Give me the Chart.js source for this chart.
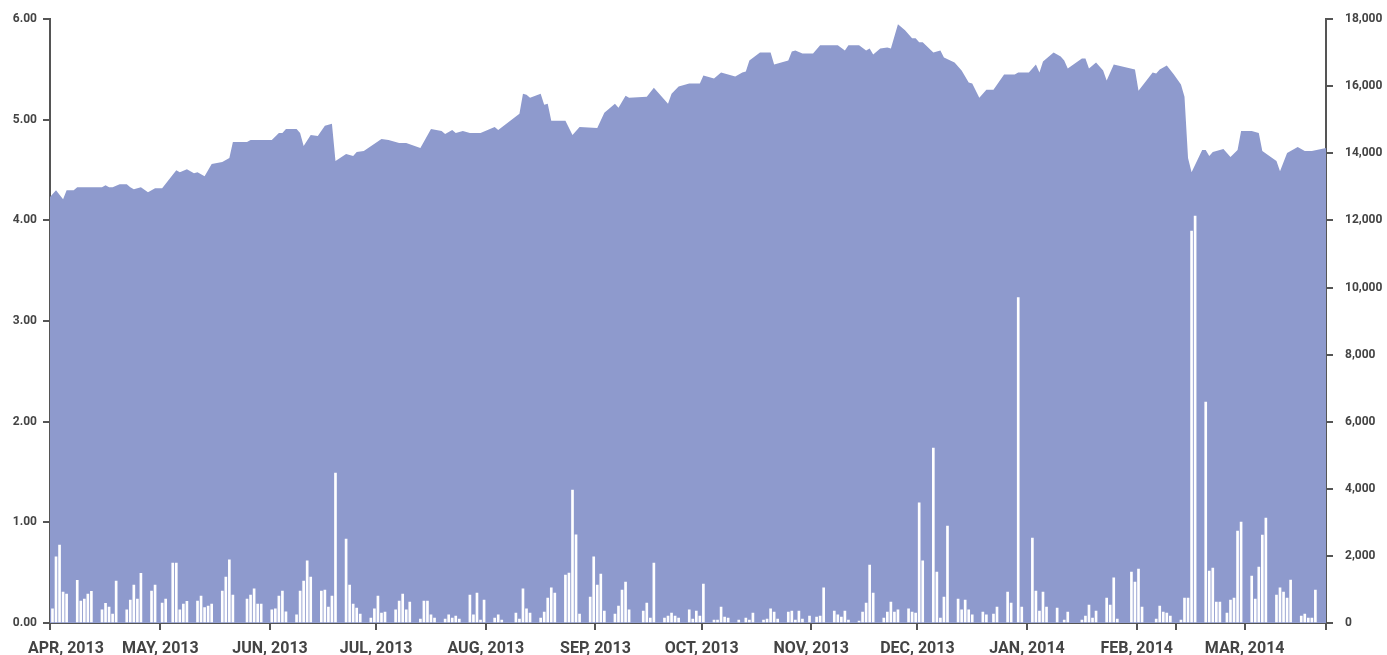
<!DOCTYPE html>
<html>
<head>
<meta charset="utf-8">
<title>Price and volume, Apr 2013 - Mar 2014</title>
<script src="https://cdn.jsdelivr.net/npm/chart.js@4.4.0/dist/chart.umd.min.js"></script>
<style>
  html, body { margin: 0; padding: 0; background: #fff; }
</style>
</head>
<body>
<canvas id="myChart" width="1387" height="655"></canvas>
<script>
// days are counted from Sun 31 Mar 2013 (day 0), one trading day = one bar
const priceDays = [
  -1, 1, 3, 4, 6, 7, 14, 15, 16, 17, 19, 21, 22, 23, 25, 27, 29, 31, 35, 36,
  38, 40, 41, 43, 45, 48, 50, 51, 55, 56, 62, 64, 65, 66, 69, 70, 71, 73, 75, 77,
  79, 80, 83, 85, 86, 88, 93, 95, 98, 100, 104, 107, 110, 111, 113, 114, 116, 118, 121, 125,
  126, 132, 133, 134, 135, 138, 139, 140, 141, 145, 147, 149, 154, 156, 159, 160, 162, 163, 168, 170,
  172, 174, 175, 177, 180, 183, 184, 187, 189, 190, 193, 195, 196, 197, 200, 203, 204, 208, 209, 210,
  212, 215, 217, 222, 224, 225, 228, 230, 231, 232, 234, 236, 237, 239, 241, 243, 244, 245, 246, 249,
  251, 252, 255, 257, 259, 260, 262, 264, 266, 269, 272, 273, 276, 278, 279, 280, 283, 285, 286, 287,
  291, 292, 293, 295, 297, 298, 300, 306, 307, 311, 312, 313, 315, 317, 319, 320, 321, 322, 325, 326,
  327, 328, 331, 333, 335, 336, 339, 341, 342, 346, 347, 349, 352, 354, 356, 360
];
const priceValues = [
  4.22, 4.30, 4.21, 4.30, 4.30, 4.33, 4.33, 4.35, 4.33, 4.33, 4.36, 4.36, 4.33, 4.31, 4.33, 4.28, 4.32, 4.32, 4.50, 4.48,
  4.51, 4.47, 4.48, 4.44, 4.56, 4.58, 4.62, 4.78, 4.78, 4.80, 4.80, 4.87, 4.87, 4.91, 4.91, 4.87, 4.74, 4.85, 4.84, 4.94,
  4.96, 4.59, 4.66, 4.64, 4.68, 4.69, 4.81, 4.80, 4.77, 4.77, 4.72, 4.91, 4.89, 4.86, 4.90, 4.87, 4.89, 4.87, 4.87, 4.93,
  4.90, 5.06, 5.26, 5.25, 5.22, 5.26, 5.15, 5.16, 4.99, 4.99, 4.85, 4.93, 4.92, 5.07, 5.16, 5.12, 5.24, 5.22, 5.23, 5.32,
  5.24, 5.16, 5.26, 5.33, 5.36, 5.36, 5.44, 5.41, 5.47, 5.46, 5.43, 5.47, 5.48, 5.59, 5.67, 5.67, 5.55, 5.59, 5.68, 5.69,
  5.66, 5.66, 5.74, 5.74, 5.69, 5.74, 5.74, 5.69, 5.71, 5.65, 5.71, 5.72, 5.71, 5.95, 5.89, 5.81, 5.81, 5.77, 5.77, 5.67,
  5.69, 5.62, 5.57, 5.49, 5.37, 5.36, 5.22, 5.30, 5.30, 5.45, 5.45, 5.47, 5.47, 5.55, 5.47, 5.58, 5.67, 5.63, 5.59, 5.51,
  5.61, 5.61, 5.51, 5.57, 5.49, 5.39, 5.55, 5.50, 5.29, 5.47, 5.46, 5.50, 5.54, 5.45, 5.35, 5.23, 4.62, 4.48, 4.70, 4.70,
  4.64, 4.68, 4.71, 4.63, 4.70, 4.89, 4.89, 4.87, 4.69, 4.59, 4.49, 4.67, 4.73, 4.69, 4.69, 4.72
];

const volumeDays = [
  0, 1, 2, 3, 4, 7, 8, 9, 10, 11, 14, 15, 16, 17, 18, 21, 22, 23, 24, 25,
  28, 29, 31, 32, 34, 35, 36, 37, 38, 41, 42, 43, 44, 45, 48, 49, 50, 51, 55, 56,
  57, 58, 59, 62, 63, 64, 65, 66, 69, 70, 71, 72, 73, 76, 77, 78, 79, 80, 83, 84,
  85, 86, 87, 90, 91, 92, 93, 94, 97, 98, 99, 100, 101, 104, 105, 106, 107, 108, 111, 112,
  113, 114, 115, 118, 119, 120, 121, 122, 125, 126, 127, 131, 132, 133, 134, 135, 138, 139, 140, 141,
  142, 145, 146, 147, 148, 149, 152, 153, 154, 155, 156, 159, 160, 161, 162, 163, 167, 168, 169, 170,
  173, 174, 175, 176, 177, 180, 181, 182, 183, 184, 187, 188, 189, 190, 191, 194, 196, 197, 198, 201,
  202, 203, 204, 205, 208, 209, 210, 211, 212, 214, 216, 217, 218, 221, 222, 223, 224, 225, 228, 229,
  230, 231, 232, 235, 236, 237, 238, 239, 242, 243, 244, 245, 246, 249, 250, 251, 252, 253, 256, 257,
  258, 259, 260, 263, 264, 266, 267, 270, 271, 273, 274, 277, 278, 279, 280, 281, 284, 286, 287, 291,
  292, 293, 294, 295, 298, 299, 300, 301, 305, 306, 307, 308, 312, 313, 314, 315, 316, 319, 320, 321,
  322, 323, 326, 327, 328, 329, 330, 332, 333, 334, 335, 336, 339, 340, 341, 342, 343, 346, 347, 348,
  349, 350, 353, 354, 355, 356, 357
];
const volumeValues = [
  420, 1970, 2320, 925, 865, 1270, 655, 715, 865, 945, 390, 585, 477, 268, 1250, 390, 685, 1130, 715, 1480,
  955, 1130, 595, 715, 1790, 1790, 390, 565, 645, 655, 805, 457, 507, 565, 955, 1370, 1880, 835, 715, 835,
  1015, 565, 565, 390, 420, 805, 955, 330, 240, 955, 1250, 1850, 1370, 955, 985, 477, 805, 4470, 2505, 1130,
  565, 447, 268, 150, 420, 805, 298, 328, 390, 655, 865, 390, 625, 120, 655, 655, 240, 150, 120, 240,
  150, 210, 120, 835, 240, 895, 90, 685, 150, 240, 90, 298, 120, 1015, 420, 298, 150, 328, 745, 1045,
  895, 1430, 1490, 3965, 2625, 268, 775, 1970, 1130, 1460, 358, 268, 507, 985, 1220, 390, 358, 595, 150, 1790,
  150, 210, 298, 210, 150, 390, 120, 358, 210, 1160, 90, 90, 477, 180, 150, 90, 150, 90, 298, 90,
  120, 420, 328, 120, 328, 358, 90, 358, 120, 210, 180, 210, 1045, 358, 240, 180, 358, 90, 60, 328,
  595, 1730, 895, 150, 328, 625, 328, 390, 420, 328, 298, 3580, 1850, 5215, 1520, 150, 775, 2890, 715, 390,
  685, 390, 240, 328, 240, 268, 477, 925, 595, 9700, 477, 2530, 955, 358, 925, 477, 447, 90, 328, 90,
  210, 537, 150, 358, 745, 537, 1350, 120, 1520, 1220, 1610, 477, 120, 507, 328, 298, 210, 90, 745, 745,
  11680, 12130, 6585, 1550, 1640, 625, 625, 298, 685, 745, 2740, 3010, 1400, 715, 1670, 2620, 3130, 835, 1045, 925,
  745, 1280, 210, 268, 150, 150, 985
];

// x axis: tick marks at month starts (plus the odd unlabelled one in Feb), labels under them
const xMin = -0.2, xMax = 360.5;
const tickDays = [xMin, 31, 62, 92, 123, 154, 184, 215, 245, 276, 307, 318.1, 337.5, xMax];
const labelDays = [4.3, 31, 62, 92, 123, 154, 184, 215, 245, 276, 307, 337.5];
const monthLabels = ['APR, 2013', 'MAY, 2013', 'JUN, 2013', 'JUL, 2013', 'AUG, 2013', 'SEP, 2013',
  'OCT, 2013', 'NOV, 2013', 'DEC, 2013', 'JAN, 2014', 'FEB, 2014', 'MAR, 2014'];

const priceTicks = [0, 1, 2, 3, 4, 5, 6];
const priceTickLabels = ['0.00', '1.00', '2.00', '3.00', '4.00', '5.00', '6.00'];
const volumeTicks = [0, 2000, 4000, 6000, 8000, 10000, 12000, 14000, 16000, 18000];
const volumeTickLabels = ['0', '2,000', '4,000', '6,000', '8,000', '10,000', '12,000', '14,000', '16,000', '18,000'];

const AXIS = '#555555';
const TEXT = '#444444';
const FONT = "Roboto, 'Noto Sans', sans-serif";

// bars sit in the middle of their day
const volumePoints = volumeDays.map((d, i) => ({ x: d + 0.5, y: volumeValues[i] }));
const pricePoints = priceDays.map((d, i) => ({ x: d + 0.5, y: priceValues[i] }));

function fixedTicks(values) {
  return function (scale) {
    scale.ticks = values.map(v => ({ value: v }));
  };
}

const config = {
  type: 'bar',
  data: {
    datasets: [{
      type: 'bar',
      label: 'Volume',
      data: volumePoints,
      xAxisID: 'x',
      yAxisID: 'y2',
      backgroundColor: '#ffffff',
      borderWidth: 0,
      barThickness: 2,
      order: 1
    }, {
      type: 'line',
      label: 'Price',
      data: pricePoints,
      xAxisID: 'x',
      yAxisID: 'y',
      backgroundColor: '#8e9acd',
      borderWidth: 0,
      pointRadius: 0,
      tension: 0,
      fill: 'origin',
      order: 2
    }]
  },
  options: {
    responsive: false,
    animation: false,
    devicePixelRatio: 1,
    layout: { padding: { top: 19, bottom: 0, left: 0, right: 0 } },
    plugins: { legend: { display: false }, tooltip: { enabled: false } },
    scales: {
      x: {
        type: 'linear', position: 'bottom', weight: 0,
        min: xMin, max: xMax, offset: false,
        grid: { offset: false, drawOnChartArea: false, drawTicks: true, tickLength: 7, color: AXIS, lineWidth: 2 },
        border: { display: true, color: AXIS, width: 2 },
        ticks: { display: false },
        afterBuildTicks: fixedTicks(tickDays),
        afterFit: s => { s.height = 7; }
      },
      xl: {
        type: 'linear', position: 'bottom', weight: 1,
        min: xMin, max: xMax, offset: false,
        grid: { display: false, offset: false },
        border: { display: false },
        ticks: {
          autoSkip: false, maxRotation: 0, padding: 1,
          color: TEXT, font: { family: FONT, size: 16, weight: 'bold' },
          callback: (v, i) => monthLabels[i]
        },
        afterBuildTicks: fixedTicks(labelDays),
        afterFit: s => { s.height = 25; }
      },
      y: {
        type: 'linear', position: 'left', min: 0, max: 6,
        grid: { drawOnChartArea: false, tickLength: 7, color: AXIS, lineWidth: 2 },
        border: { display: true, color: AXIS, width: 2 },
        ticks: {
          padding: 6, color: TEXT, font: { family: FONT, size: 12, weight: 'bold' },
          callback: (v, i) => priceTickLabels[i]
        },
        afterBuildTicks: fixedTicks(priceTicks),
        afterFit: s => { s.width = 50; }
      },
      y2: {
        type: 'linear', position: 'right', min: 0, max: 18000,
        grid: { drawOnChartArea: false, tickLength: 7, color: AXIS, lineWidth: 2 },
        border: { display: true, color: AXIS, width: 2 },
        ticks: {
          padding: 12, color: TEXT, font: { family: FONT, size: 12, weight: 'bold' },
          callback: (v, i) => volumeTickLabels[i]
        },
        afterBuildTicks: fixedTicks(volumeTicks),
        afterFit: s => { s.width = 61; }
      }
    }
  }
};

const myChart = new Chart(document.getElementById('myChart'), config);
</script>
</body>
</html>
